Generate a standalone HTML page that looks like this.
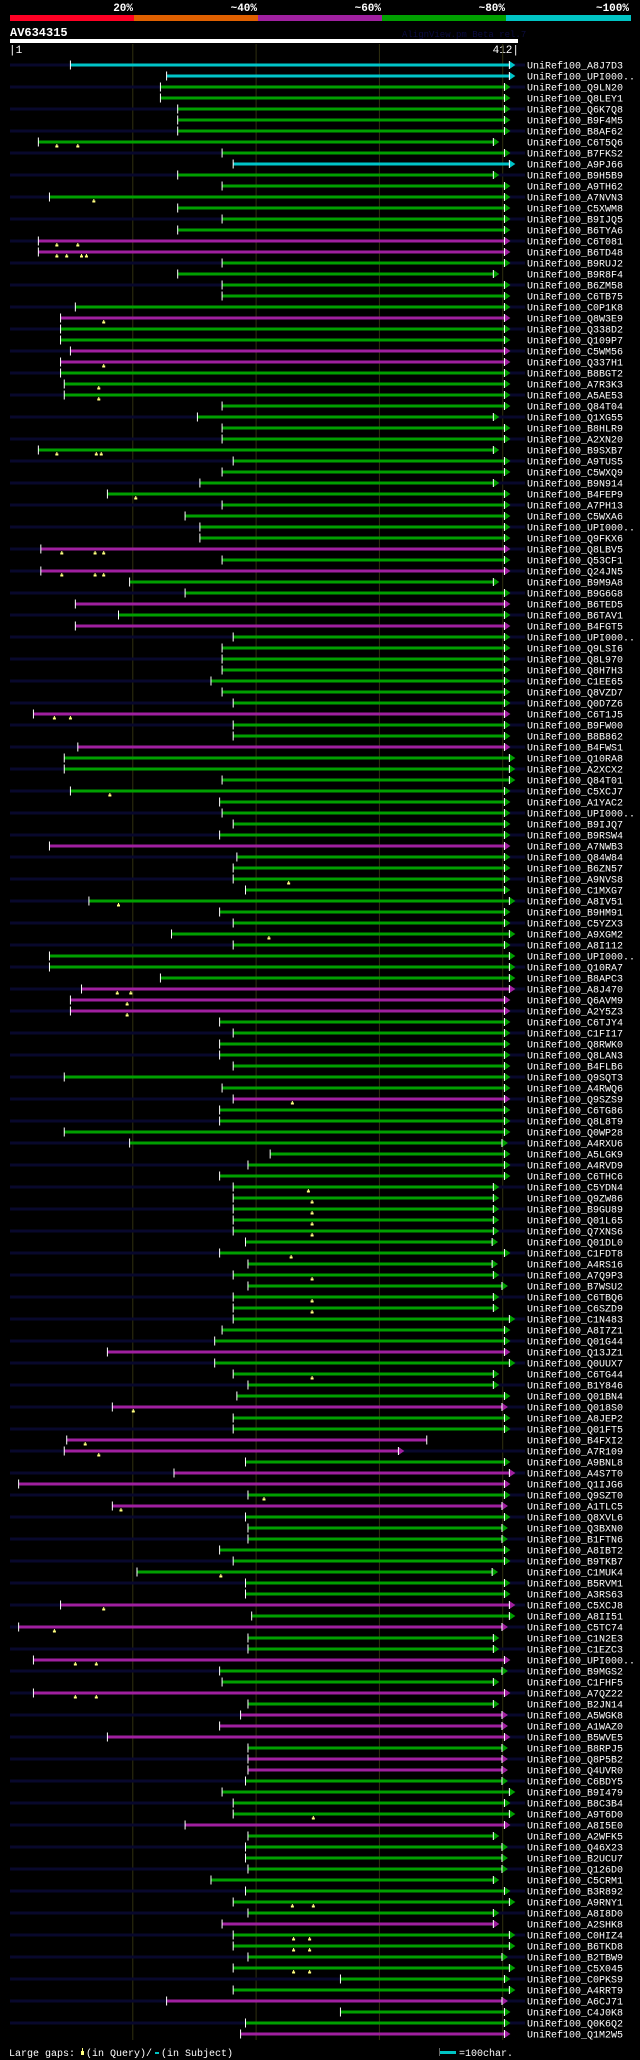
<!DOCTYPE html>
<html><head><meta charset="utf-8">
<style>
html,body{margin:0;padding:0;background:#000;}
svg{display:block;}
text{font-family:"Liberation Mono","DejaVu Sans Mono",monospace;}
</style></head>
<body>
<svg id="chart" width="640" height="2060" viewBox="0 0 640 2060" xmlns="http://www.w3.org/2000/svg">
  <rect x="0" y="0" width="640" height="2060" fill="#000"/>
  <g>
    <rect x="10" y="15" width="124" height="6" fill="#ff0024"/>
    <rect x="134" y="15" width="124" height="6" fill="#e06000"/>
    <rect x="258" y="15" width="124" height="6" fill="#a020a0"/>
    <rect x="382" y="15" width="124" height="6" fill="#00a000"/>
    <rect x="506" y="15" width="125" height="6" fill="#00c4c4"/>
    <text x="133" y="11" fill="#fff" font-size="11" font-weight="bold" text-anchor="end">20%</text>
    <text x="257" y="11" fill="#fff" font-size="11" font-weight="bold" text-anchor="end">~40%</text>
    <text x="381" y="11" fill="#fff" font-size="11" font-weight="bold" text-anchor="end">~60%</text>
    <text x="505" y="11" fill="#fff" font-size="11" font-weight="bold" text-anchor="end">~80%</text>
    <text x="629" y="11" fill="#fff" font-size="11" font-weight="bold" text-anchor="end">~100%</text>
  </g>
  <text x="10" y="36" fill="#fff" font-size="12" font-weight="bold">AV634315</text>
  <text x="402" y="37" fill="#0c0c40" font-size="9">AlignView.pm Beta rel.7</text>
  <rect x="10" y="39" width="508" height="4" fill="#fff"/>
  <text x="9" y="53" fill="#fff" font-size="11">|1</text>
  <text x="519" y="53" fill="#fff" font-size="11" text-anchor="end">412|</text>
  <g id="grid"></g>
  <g id="rows"></g>
  <g>
    <text x="9" y="2056" fill="#fff" font-size="10">Large gaps:</text>
    <rect x="81" y="2051" width="3" height="4" fill="#ffff80"/>
    <rect x="82" y="2048" width="1" height="3" fill="#ffff80"/>
    <text x="86" y="2056" fill="#fff" font-size="10">(in Query)/</text>
    <rect x="155" y="2052" width="4" height="2" fill="#00c4c4"/>
    <text x="161" y="2056" fill="#fff" font-size="10">(in Subject)</text>
    <rect x="439" y="2051" width="17" height="3" fill="#00c4c4"/>
    <rect x="439" y="2048" width="1" height="8" fill="#666"/>
    <text x="459" y="2056" fill="#fff" font-size="10">=100char.</text>
  </g>
</svg>
<script>
const queryLength = 412;
const gridTicks = [100, 200, 300, 400];
const names = ["A8J7D3","UPI000..","Q9LN20","Q8LEY1","Q6K7Q8","B9F4M5","B8AF62","C6T5Q6","B7FKS2","A9PJ66",
"B9H5B9","A9TH62","A7NVN3","C5XWM8","B9IJQ5","B6TYA6","C6T081","B6TD48","B9RUJ2","B9R8F4",
"B6ZM58","C6TB75","C0P1K8","Q8W3E9","Q338D2","Q109P7","C5WM56","Q337H1","B8BGT2","A7R3K3",
"A5AE53","Q84T04","Q1XG55","B8HLR9","A2XN20","B9SXB7","A9TUS5","C5WXQ9","B9N914","B4FEP9",
"A7PH13","C5WXA6","UPI000..","Q9FKX6","Q8LBV5","Q53CF1","Q24JN5","B9M9A8","B9G6G8","B6TED5",
"B6TAV1","B4FGT5","UPI000..","Q9LSI6","Q8L970","Q8H7H3","C1EE65","Q8VZD7","Q0D7Z6","C6T1J5",
"B9FW00","B8B862","B4FWS1","Q10RA8","A2XCX2","Q84T01","C5XCJ7","A1YAC2","UPI000..","B9IJQ7",
"B9RSW4","A7NWB3","Q84W84","B6ZN57","A9NVS8","C1MXG7","A8IV51","B9HM91","C5YZX3","A9XGM2",
"A8I112","UPI000..","Q10RA7","B8APC3","A8J470","Q6AVM9","A2Y5Z3","C6TJY4","C1FI17","Q8RWK0",
"Q8LAN3","B4FLB6","Q9SQT3","A4RWQ6","Q9SZS9","C6TG86","Q8L8T9","Q0WP28","A4RXU6","A5LGK9",
"A4RVD9","C6THC6","C5YDN4","Q9ZW86","B9GU89","Q01L65","Q7XNS6","Q01DL0","C1FDT8","A4RS16",
"A7Q9P3","B7WSU2","C6TBQ6","C6SZD9","C1N483","A8I7Z1","Q01G44","Q13JZ1","Q0UUX7","C6TG44",
"B1Y846","Q01BN4","Q018S0","A8JEP2","Q01FT5","B4FXI2","A7R109","A9BNL8","A4S7T0","Q1IJG6",
"Q9SZT0","A1TLC5","Q8XVL6","Q3BXN0","B1FTN6","A8IBT2","B9TKB7","C1MUK4","B5RVM1","A3RS63",
"C5XCJ8","A8II51","C5TC74","C1N2E3","C1EZC3","UPI000..","B9MGS2","C1FHF5","A7QZ22","B2JN14",
"A5WGK8","A1WAZ0","B5WVE5","B8RPJ5","Q8P5B2","Q4UVR0","C6BDY5","B9I479","B8C3B4","A9T6D0",
"A8I5E0","A2WFK5","Q46X23","B2UCU7","Q126D0","C5CRM1","B3R892","A9RNY1","A8I8D0","A2SHK8",
"C0HIZ4","B6TKD8","B2TBW9","C5X045","C0PKS9","A4RRT9","A6CJ71","C4J0K8","Q0K6Q2","Q1M2W5"];
const identityClass = ("ccgggggggc"+"ggggggmmgg"+"gggmggmmgg"+"gggggggggg"+"ggggmgmggm"+
"gmgggggggm"+"ggmggggggg"+"gmgggggggg"+"ggggmmmggg"+"ggggmggggg"+
"gggggggggg"+"gggggggmgg"+"ggmggmmgmm"+"gmgggggggg"+"mgmggmggmg"+
"mmmgmmgggg"+"mggggggggm"+"ggggggmggm").split("");
const starts = [49,127,122,122,136,136,136,23,172,181,
136,172,32,136,172,136,23,23,172,136,
172,172,53,41,41,41,49,41,41,44,
44,172,152,172,172,23,181,172,154,79,
172,142,154,154,25,172,25,97,142,53,
88,53,181,172,172,172,163,172,181,19,
181,181,55,44,44,172,49,170,172,181,
170,32,184,181,181,191,64,170,181,131,
181,32,32,122,58,49,49,170,181,170,
170,181,44,172,181,170,170,44,97,211,
193,170,181,181,181,181,181,191,170,193,
181,193,181,181,181,172,166,79,166,181,
193,184,83,181,181,46,44,191,133,7,
193,83,191,193,193,170,181,103,191,191,
41,196,7,193,193,19,170,172,19,193,
187,170,79,193,193,193,191,172,181,181,
142,193,191,191,193,163,191,181,193,172,
181,181,193,181,268,181,127,268,191,187];
const ends = [405,405,401,401,401,401,401,392,401,405,
392,401,401,401,401,401,401,401,401,392,
401,401,401,401,401,401,401,401,401,401,
401,401,392,401,401,392,401,401,392,401,
401,401,401,401,401,401,401,392,401,401,
401,401,401,401,401,401,401,401,401,401,
401,401,401,405,405,405,401,401,401,401,
401,401,401,401,401,401,405,401,401,405,
401,405,405,405,405,401,401,401,401,401,
401,401,401,401,401,401,401,401,399,401,
401,401,392,392,392,392,392,391,401,391,
392,399,392,392,405,401,401,401,405,392,
392,401,399,401,401,338,315,401,405,401,
401,399,401,399,399,401,401,391,401,401,
405,405,399,392,392,401,399,392,401,392,
399,399,401,399,399,399,399,405,401,405,
401,392,399,399,399,392,401,405,392,392,
405,405,399,405,401,405,399,401,401,401];
const queryGaps = [[],[],[],[],[],[],[],[38,55],[],[],
[],[],[68],[],[],[],[38,55],[38,46,58,62],[],[],
[],[],[],[76],[],[],[],[76],[],[72],
[72],[],[],[],[],[38,70,74],[],[],[],[102],
[],[],[],[],[42,69,76],[],[42,69,76],[],[],[],
[],[],[],[],[],[],[],[],[],[36,49],
[],[],[],[],[],[],[81],[],[],[],
[],[],[],[],[226],[],[88],[],[],[210],
[],[],[],[],[87,98],[95],[95],[],[],[],
[],[],[],[],[229],[],[],[],[],[],
[],[],[242],[245],[245],[245],[245],[],[228],[],
[245],[],[245],[245],[],[],[],[],[],[245],
[],[],[100],[],[],[61],[72],[],[],[],
[206],[90],[],[],[],[],[],[171],[],[],
[76],[],[36],[],[],[53,70],[],[],[53,70],[],
[],[],[],[],[],[],[],[],[],[246],
[],[],[],[],[],[],[],[229,246],[],[],
[230,243],[230,243],[],[230,243],[],[],[],[],[],[]];

const NS = "http://www.w3.org/2000/svg";
const X0 = 10, X1 = 518, ROW0 = 65, ROWH = 11;
function xScale(r){ return X0 + r * (X1 - X0) / queryLength; }
function yRow(i){ return ROW0 + i * ROWH; }
const colorMap = {c:"#00c4c8", g:"#009f00", m:"#a020a0"};
function mk(tag, attrs, parent){
  const e = document.createElementNS(NS, tag);
  for (const k in attrs) e.setAttribute(k, attrs[k]);
  parent.appendChild(e);
  return e;
}
const grid = document.getElementById('grid');
gridTicks.forEach(t => {
  const l = mk('line', {x1: xScale(t)-0.5, x2: xScale(t)-0.5, y1: 44, y2: 2040, stroke: "#303010", "stroke-width": 1}, grid);
  
  
});
const rowsG = document.getElementById('rows');
names.forEach((nm, i) => {
  const y = yRow(i);
  const g = mk('g', {}, rowsG);
  
  
  if (i % 2 === 0) {
    const bg = mk('rect', {x: X0, y: y-1.5, width: 515, height: 3, fill: "#08082c"}, g);
    
    
  }
  const col = colorMap[identityClass[i]] || "#009f00";
  const sx = xScale(starts[i]), ex = xScale(ends[i]);
  const bar = mk('rect', {x: sx, y: y-1.5, width: ex - sx, height: 3, fill: col}, g);
  
  
  const tick = mk('rect', {x: sx-0.5, y: y-4.5, width: 1, height: 9, fill: "#fff"}, g);
  
  
  if (ends[i] > 340 || ends[i] < 320) {
    const ar = mk('polygon', {points: `${ex},${y-4} ${ex+6},${y} ${ex},${y+4}`, fill: col}, g);
    
    
    const ab = mk('rect', {x: ex-0.5, y: y-4, width: 1, height: 8, fill: "#fff"}, g);
    
    
  } else {
    const et = mk('rect', {x: ex-0.5, y: y-4.5, width: 1, height: 9, fill: "#fff"}, g);
    
    
  }
  queryGaps[i].forEach(q => {
    const mx = xScale(q);
    const st = mk('rect', {x: mx-0.5, y: y+2, width: 1, height: 2, fill: "#ffff80"}, g);
    
    
    const mm = mk('rect', {x: mx-1.5, y: y+3.5, width: 3, height: 2, fill: "#ffff80"}, g);
    
    
  });
  const t = mk('text', {x: 527, y: y+3.5, fill: "#fff", "font-size": 10}, g);
  
  
  t.textContent = 'UniRef100_' + nm;
});
</script>
</body></html>
